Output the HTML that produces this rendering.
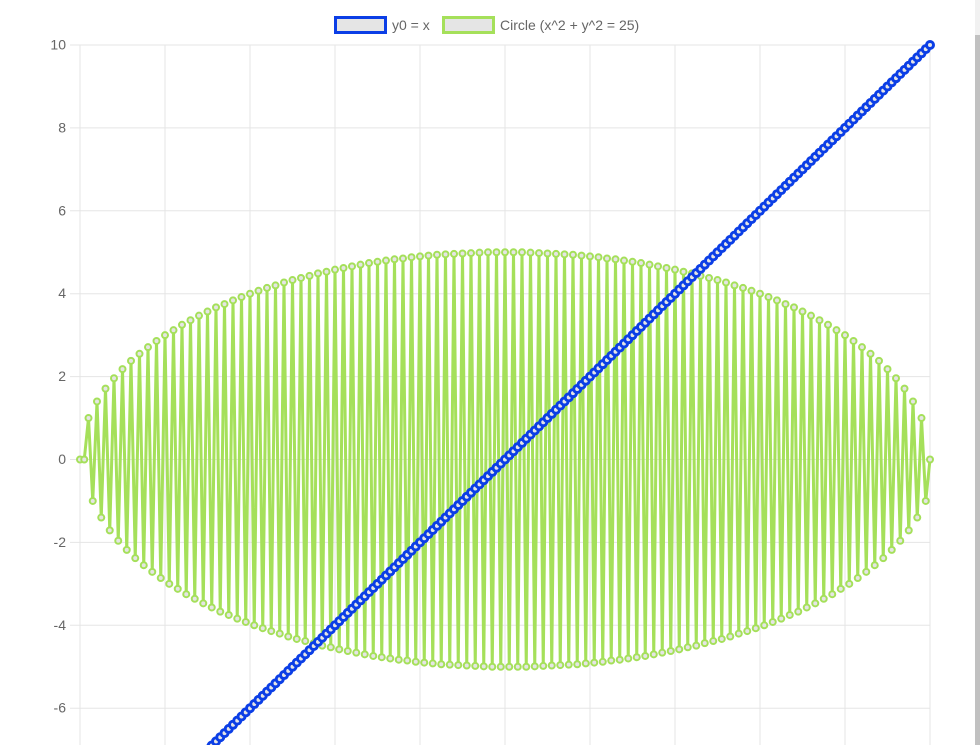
<!DOCTYPE html>
<html><head><meta charset="utf-8"><style>
html,body{margin:0;padding:0;background:#fff;overflow:hidden;width:980px;height:745px}
svg{display:block;font-family:"Liberation Sans",sans-serif}
</style></head><body>
<svg id="c" width="980" height="745">
<g id="grid"></g>
<g id="yax"></g>
<g id="series"></g>
<g>
<g><rect x="335.5" y="17.5" width="50" height="15" fill="#e5e5e5" stroke="#0b3ee6" stroke-width="3"/><text x="392" y="30" font-size="14" fill="#666">y0 = x</text></g>
<g><rect x="443.5" y="17.5" width="50" height="15" fill="#e5e5e5" stroke="#a5e05a" stroke-width="3"/><text x="500" y="30" font-size="14" fill="#666">Circle (x^2 + y^2 = 25)</text></g>
</g>
<rect x="975" y="0" width="5" height="745" fill="#f1f1f1"/>
<rect x="975" y="35" width="5" height="710" fill="#c1c1c1"/>
</svg>
<script>
const yTicks=[10,8,6,4,2,0,-2,-4,-6];
const lineValues=[];for(let i=0;i<=200;i++)lineValues.push(+(-10+0.1*i).toFixed(1));
const circleMag=[0,1,1.4,1.71,1.96,2.18,2.38,2.55,2.71,2.86,3,3.12,3.25,3.36,3.47,3.57,3.67,3.75,3.84,3.92,4,4.07,4.14,4.2,4.27,4.33,4.38,4.43,4.49,4.53,4.58,4.62,4.66,4.7,4.74,4.77,4.8,4.83,4.85,4.88,4.9,4.92,4.94,4.95,4.96,4.97,4.98,4.99,5,5,5,5,5,4.99,4.98,4.97,4.96,4.95,4.94,4.92,4.9,4.88,4.85,4.83,4.8,4.77,4.74,4.7,4.66,4.62,4.58,4.53,4.49,4.43,4.38,4.33,4.27,4.2,4.14,4.07,4,3.92,3.84,3.75,3.67,3.57,3.47,3.36,3.25,3.12,3,2.86,2.71,2.55,2.38,2.18,1.96,1.71,1.4,1,0];
const circleValues=[];for(let k=0;k<100;k++){circleValues.push(circleMag[k]);circleValues.push(-circleMag[k]);}circleValues.push(0);
const NS="http://www.w3.org/2000/svg";
const X0=80,X1=930,Y10=45,PPU=41.45;
const n=lineValues.length;
const xs=i=>X0+(X1-X0)*i/(n-1);
const ys=v=>Y10+(10-v)*PPU;
function mk(t,a,p){const e=document.createElementNS(NS,t);for(const k in a)e.setAttribute(k,a[k]);p.appendChild(e);return e;}
const grid=document.getElementById('grid'),yax=document.getElementById('yax'),ser=document.getElementById('series');
for(let k=0;k<=10;k++){const x=X0+85*k;const l=mk('line',{x1:x,x2:x,y1:Y10,y2:745,stroke:'#e5e5e5','stroke-width':1},grid);

}
yTicks.forEach(v=>{const y=ys(v);const l=mk('line',{x1:X0-10,x2:X1,y1:y,y2:y,stroke:'#e5e5e5','stroke-width':1},grid);


const t=mk('text',{x:66,y:y+4.5,'text-anchor':'end','font-size':14,fill:'#666'},yax);t.textContent=v;

});
function draw(vals,col,name,r,sw){const g=mk('g',{},ser);


const pts=vals.map((v,i)=>xs(i).toFixed(2)+','+ys(v).toFixed(2)).join(' ');
mk('polyline',{points:pts,fill:'none',stroke:col,'stroke-width':3,'stroke-linejoin':'round'},g);
vals.forEach((v,i)=>{const c=mk('circle',{cx:xs(i),cy:ys(v),r:r,fill:'#e5e5e5',stroke:col,'stroke-width':sw},g);

});}
draw(circleValues,'#a5e05a','circle-series',3,2);
draw(lineValues,'#0b3ee6','y0-series',3.5,3);
</script>
</body></html>
